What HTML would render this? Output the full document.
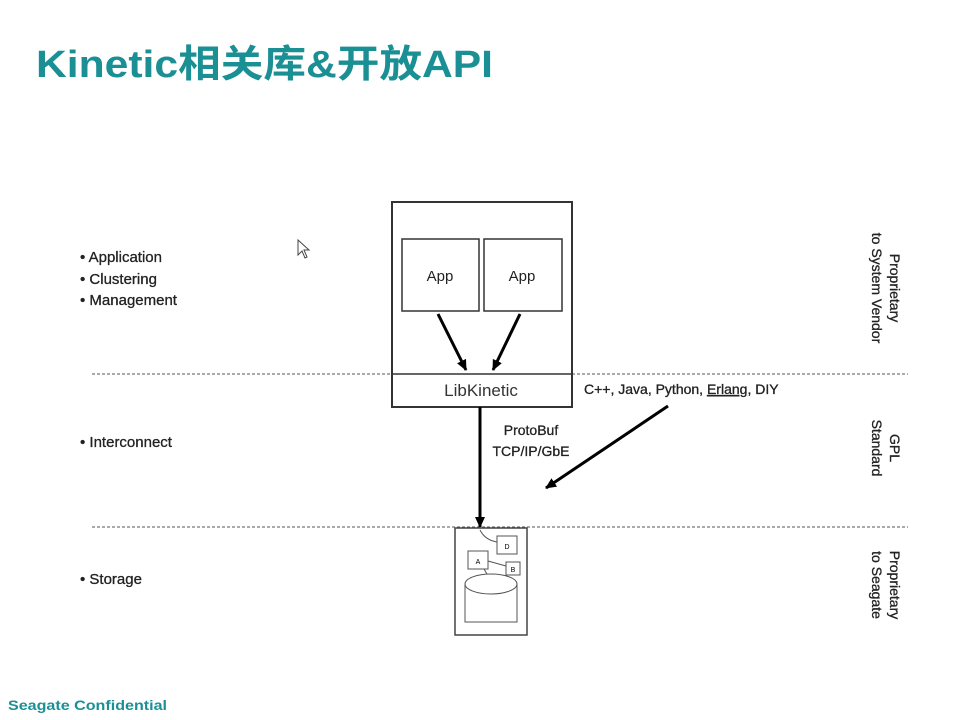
<!DOCTYPE html>
<html><head><meta charset="utf-8"><style>
html,body{margin:0;padding:0;background:#fff;}
svg{display:block;}
</style></head><body>
<svg width="960" height="720" viewBox="0 0 960 720" xmlns="http://www.w3.org/2000/svg" font-family="Liberation Sans, Noto Sans CJK SC, sans-serif">
<defs>
<marker id="ah2" markerWidth="12" markerHeight="12" refX="10" refY="6" orient="auto" markerUnits="userSpaceOnUse"><path d="M0,1 L11,6 L0,11 Z" fill="#000"/></marker>
</defs>
<text x="36" y="77" font-size="38" font-weight="bold" fill="#1a8f94" textLength="457" lengthAdjust="spacingAndGlyphs">Kinetic相关库&amp;开放API</text>
<line x1="92" y1="374" x2="908" y2="374" stroke="#555" stroke-dasharray="3,2"/>
<line x1="92" y1="527" x2="908" y2="527" stroke="#555" stroke-dasharray="3,2"/>
<g font-size="15" fill="#222" stroke="#222" stroke-width="0.3">
<text x="80" y="262">• Application</text>
<text x="80" y="284">• Clustering</text>
<text x="80" y="305">• Management</text>
<text x="80" y="447">• Interconnect</text>
<text x="80" y="584">• Storage</text>
</g>
<rect x="392" y="202" width="180" height="205" fill="#fff" stroke="#333" stroke-width="2"/>
<line x1="392" y1="374" x2="572" y2="374" stroke="#333" stroke-width="1.5"/>
<rect x="402" y="239" width="77" height="72" fill="#fff" stroke="#333" stroke-width="1.5"/>
<rect x="484" y="239" width="78" height="72" fill="#fff" stroke="#333" stroke-width="1.5"/>
<text x="440" y="281" font-size="15" text-anchor="middle" fill="#222">App</text>
<text x="522" y="281" font-size="15" text-anchor="middle" fill="#222">App</text>
<text x="481" y="396" font-size="17" text-anchor="middle" fill="#333">LibKinetic</text>
<line x1="438" y1="314" x2="466" y2="370" stroke="#000" stroke-width="3" marker-end="url(#ah2)"/>
<line x1="520" y1="314" x2="493" y2="370" stroke="#000" stroke-width="3" marker-end="url(#ah2)"/>
<line x1="480" y1="407" x2="480" y2="527" stroke="#000" stroke-width="3" marker-end="url(#ah2)"/>
<line x1="668" y1="406" x2="546" y2="488" stroke="#000" stroke-width="3" marker-end="url(#ah2)"/>
<g stroke="#222" stroke-width="0.3">
<text x="584" y="394" font-size="14" fill="#222">C++, Java, Python, <tspan text-decoration="underline">Erlang</tspan>, DIY</text>
<text x="531" y="435" font-size="14" text-anchor="middle" fill="#222">ProtoBuf</text>
<text x="531" y="456" font-size="14" text-anchor="middle" fill="#222">TCP/IP/GbE</text>
</g>
<rect x="455" y="528" width="72" height="107" fill="#fff" stroke="#444" stroke-width="1.5"/>
<rect x="497" y="536" width="20" height="18" fill="#fff" stroke="#555"/>
<rect x="468" y="551" width="20" height="18" fill="#fff" stroke="#555"/>
<rect x="506" y="562" width="14" height="13" fill="#fff" stroke="#555"/>
<text x="507" y="549" font-size="7" text-anchor="middle">D</text>
<text x="478" y="564" font-size="7" text-anchor="middle">A</text>
<text x="513" y="572" font-size="7" text-anchor="middle">B</text>
<path d="M465,584 L465,622 L517,622 L517,584" fill="#fff" stroke="#555"/>
<ellipse cx="491" cy="584" rx="26" ry="10" fill="#fff" stroke="#555"/>
<path d="M480,530 Q485,540 497,542 M488,561 L506,566 M484,569 L487,574" stroke="#555" fill="none"/>
<g font-size="14" fill="#222" text-anchor="middle" stroke="#222" stroke-width="0.3">
<text transform="translate(890,288) rotate(90)">Proprietary</text>
<text transform="translate(872,288) rotate(90)">to System Vendor</text>
<text transform="translate(890,448) rotate(90)">GPL</text>
<text transform="translate(872,448) rotate(90)">Standard</text>
<text transform="translate(890,585) rotate(90)">Proprietary</text>
<text transform="translate(872,585) rotate(90)">to Seagate</text>
</g>
<path d="M298,240 L298,255 L302,251 L305,258 L307,257 L304,250 L309,250 Z" fill="#fff" stroke="#444"/>
<text x="8" y="710" font-size="14" font-weight="bold" fill="#1a8f94" textLength="159" lengthAdjust="spacingAndGlyphs">Seagate Confidential</text>
</svg>
</body></html>
